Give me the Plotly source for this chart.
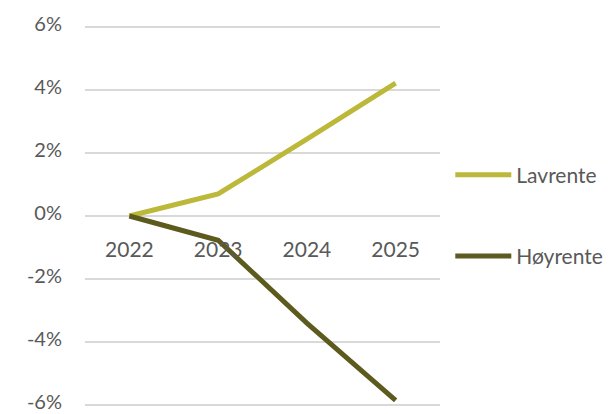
import plotly.graph_objects as go

years = ["2022", "2023", "2024", "2025"]
lavrente = [0.0, 0.70, 2.44, 4.22]
hoyrente = [0.0, -0.77, -3.40, -5.86]
y_ticks = [-6, -4, -2, 0, 2, 4, 6]
y_tick_labels = ["-6%", "-4%", "-2%", "0%", "2%", "4%", "6%"]

text_color = "#595959"
grid_color = "#d9d9d9"
font_family = "Lato, Carlito, Calibri, sans-serif"

fig = go.Figure()
fig.add_trace(go.Scatter(
    x=years, y=lavrente, name="Lavrente", mode="lines",
    line=dict(color="#bcb83a", width=5), legendgroup="a",
))
fig.add_trace(go.Scatter(
    x=years, y=hoyrente, name="Høyrente", mode="lines",
    line=dict(color="#5d5a1d", width=5), legendgroup="b",
))

fig.update_layout(
    width=609, height=414,
    margin=dict(l=85, r=169, t=24, b=6, autoexpand=False),
    paper_bgcolor="white", plot_bgcolor="white",
    font=dict(family=font_family, size=21, color=text_color),
    showlegend=True,
    legend=dict(
        x=1.029, y=0.66, xanchor="left", yanchor="top",
        tracegroupgap=51, itemwidth=56,
        font=dict(size=21, color=text_color),
        bgcolor="rgba(0,0,0,0)",
    ),
    xaxis=dict(
        type="category", range=[-0.5, 3.5],
        anchor="free", position=0.5, automargin=False,
        showline=False, showgrid=False, zeroline=False,
        ticks="", ticklabelstandoff=19,
        tickfont=dict(size=21, color=text_color),
    ),
    yaxis=dict(
        range=[-6.1, 6.1], tickvals=y_ticks, ticktext=y_tick_labels,
        automargin=False,
        showgrid=True, gridcolor=grid_color, gridwidth=1.5,
        zeroline=False, showline=False, ticks="",
        ticklabelstandoff=22, ticklabeloverflow="allow",
        ticklabelshift=-3,
        tickfont=dict(size=20, color=text_color),
    ),
)

fig.write_html("out.html")
